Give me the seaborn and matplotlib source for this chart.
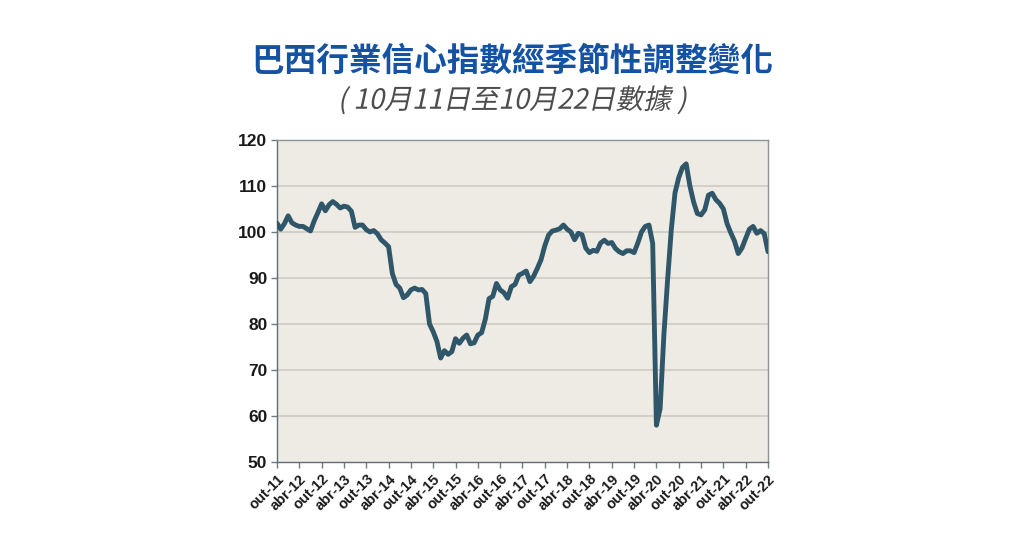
import numpy as np
import pandas as pd
import seaborn as sns
import matplotlib.pyplot as plt
from matplotlib.patheffects import AbstractPathEffect
from matplotlib.transforms import Affine2D

# monthly index, out-11 .. out-22
valores = [101.9, 100.6, 101.8, 103.5, 102.0, 101.5, 101.2, 101.2, 100.7, 100.2,
           102.4, 104.2, 106.1, 104.6, 105.9, 106.6, 106.0, 105.2, 105.6, 105.4,
           104.5, 101.0, 101.5, 101.5, 100.5, 100.0, 100.3, 99.6, 98.3, 97.6,
           96.8, 91.0, 88.6, 87.8, 85.7, 86.3, 87.4, 87.8, 87.4, 87.5,
           86.6, 80.0, 78.3, 76.2, 72.6, 74.2, 73.4, 74.0, 76.8, 75.8,
           76.9, 77.6, 75.7, 75.9, 77.6, 78.1, 81.0, 85.5, 86.0, 88.8,
           87.4, 86.8, 85.6, 88.1, 88.6, 90.6, 91.0, 91.5, 89.2, 90.4,
           92.1, 94.0, 97.0, 99.3, 100.2, 100.4, 100.7, 101.5, 100.6, 100.0,
           98.3, 99.7, 99.4, 96.5, 95.5, 96.0, 95.8, 97.6, 98.2, 97.5,
           97.7, 96.4, 95.7, 95.3, 95.9, 95.9, 95.5, 97.6, 100.0, 101.2,
           101.5, 97.5, 58.0, 61.6, 77.5, 89.5, 100.5, 108.5, 111.8, 114.0,
           114.8, 110.0, 106.5, 104.0, 103.7, 104.8, 108.0, 108.4, 107.0, 106.2,
           105.0, 101.8, 99.8, 98.0, 95.3, 96.5, 98.6, 100.6, 101.2, 99.7,
           100.3, 99.6, 95.7]
meses = list(range(len(valores)))
rotulos = ["out-11", "abr-12", "out-12", "abr-13", "out-13", "abr-14", "out-14",
           "abr-15", "out-15", "abr-16", "out-16", "abr-17", "out-17", "abr-18",
           "out-18", "abr-19", "out-19", "abr-20", "out-20", "abr-21", "out-21",
           "abr-22", "out-22"]
yticks = [50, 60, 70, 80, 90, 100, 110, 120]

titulo = "巴西行業信心指數經季節性調整變化"
subtitulo = "( 10月11日至10月22日數據 )"


class Italico(AbstractPathEffect):
    # slant the text path, CJK fonts have no italic
    def draw_path(self, renderer, gc, tpath, affine, rgbFace=None):
        renderer.draw_path(gc, tpath, Affine2D().skew_deg(12, 0) + affine, rgbFace)


sns.set_theme(style="white")
plt.rcParams['font.family'] = ['Noto Sans CJK TC', 'DejaVu Sans']

df = pd.DataFrame({"mes": meses, "indice": valores})

fig = plt.figure(figsize=(10.24, 5.36), dpi=100)
ax = fig.add_axes([0.2705, 0.138, 0.4795, 0.601])
ax.set_facecolor("#EDEBE3")

for v in yticks[1:-1]:
    ax.axhline(v, color="#D2D0C8", lw=1.4, zorder=1)

sns.lineplot(data=df, x="mes", y="indice", ax=ax, color="#30566A", lw=3.5, zorder=3)

ax.set_xlim(0, 132)
ax.set_ylim(50, 120)
ax.set_xticks(range(0, 133, 6))
ax.set_xticklabels(rotulos, rotation=45, ha="right", rotation_mode="anchor",
                   fontsize=10.5, fontweight="bold", color="#1a1a1a",
                   family=["Liberation Sans", "DejaVu Sans"])
ax.set_yticks(yticks)
ax.set_yticklabels([str(v) for v in yticks], fontsize=12.5, fontweight="bold",
                   color="#1a1a1a", family=["Liberation Sans", "DejaVu Sans"])
ax.tick_params(axis="both", direction="out", length=4, width=1, color="#6E7B80",
               pad=3, bottom=True, left=True)
ax.set_xlabel("")
ax.set_ylabel("")
for s in ax.spines.values():
    s.set_color("#8C9496")
    s.set_linewidth(1)
ax.spines["left"].set_color("#5E6E74")
ax.spines["bottom"].set_color("#5E6E74")

fig.text(0.5, 0.886, titulo, ha="center", va="center", fontsize=23.5,
         fontweight="heavy", color="#1452A3")
fig.text(0.5, 0.812, subtitulo, ha="center", va="center", fontsize=20,
         fontweight="medium", color="#4d4d4d", path_effects=[Italico()])

fig.savefig("out.png", dpi=100)
